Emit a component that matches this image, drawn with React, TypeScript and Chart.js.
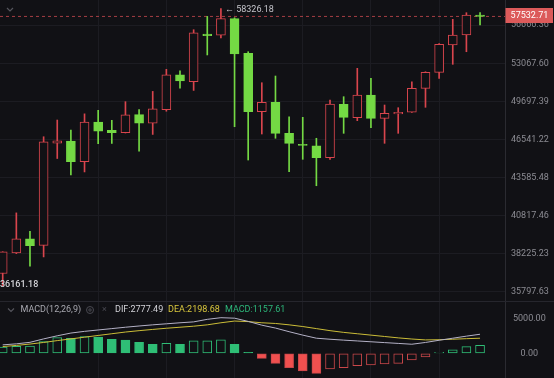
import React, { useEffect, useRef } from "react";
import { Chart, registerables } from "chart.js";

Chart.register(...registerables);

// ---------- data ----------
const OPEN = [36938, 38271, 39210, 38777, 46250, 46405, 44786, 47960, 47269, 47080, 48580, 47860, 48991, 52014, 51420, 55820, 55700, 57310, 53990, 48821, 49616, 47034, 46150, 46039, 45097, 49440, 48310, 50246, 48266, 48630, 48775, 50829, 52250, 54767, 55718, 57673];
const HIGH = [38350, 41006, 39730, 46758, 48124, 47294, 48639, 48937, 48100, 49670, 48990, 50557, 52521, 52390, 56230, 57537, 58326.18, 57400, 54137, 51320, 51917, 48398, 48350, 46633, 49813, 50099, 52611, 51713, 49386, 49157, 51409, 52300, 54900, 57248, 57903, 57903];
const LOW = [36161.18, 38225, 37400, 38009, 45035, 43780, 44005, 46199, 46220, 47060, 45617, 46944, 48860, 50850, 50643, 53835, 55450, 47573, 44919, 46978, 46633, 44023, 44973, 42971, 44973, 47034, 48069, 47490, 46230, 47034, 48760, 49190, 51713, 52974, 54137, 56689];
const CLOSE = [38337, 39210, 38757, 46357, 46420, 44786, 47960, 47213, 47080, 48555, 47860, 49070, 52014, 51483, 55917, 55650, 57310, 53923, 48821, 49616, 47034, 46230, 46055, 45097, 49472, 48348, 50246, 48266, 48685, 48775, 50829, 52250, 54831, 55718, 57673, 57532.71];

const PRICE_TICKS = [35797.63, 38225.23, 40817.46, 43585.48, 46541.22, 49697.39, 53067.6, 56666.36];
const LAST_PRICE = 57532.71;
const HIGH_MARK = 58326.18;
const LOW_MARK = 36161.18;
const GRID_INDEX = [7, 12, 17, 22, 27, 32];

const HIST = [900, 1000, 1050, 1700, 2280, 2200, 2430, 2380, 2040, 1940, 1600, 1310, 1460, 1310, 1800, 1830, 1950, 1310, 130, -730, -1460, -2090, -2580, -2920, -2280, -2090, -1800, -1700, -1550, -1460, -970, -530, 100, 490, 980, 1157.61];
const DIF = [1230, 1380, 1600, 2100, 2550, 2950, 3200, 3400, 3600, 3800, 3980, 4150, 4300, 4450, 4580, 4950, 5190, 5120, 4650, 4100, 3680, 3150, 2650, 2200, 2050, 1920, 1800, 1680, 1560, 1440, 1320, 1580, 1900, 2200, 2500, 2777.49];
const DEA = [980, 1150, 1350, 1580, 1850, 2100, 2350, 2600, 2850, 3100, 3300, 3480, 3650, 3800, 3950, 4150, 4450, 4700, 4620, 4450, 4350, 4150, 3900, 3600, 3300, 3050, 2850, 2650, 2450, 2250, 2080, 1950, 1980, 2050, 2130, 2198.68];
const MACD_TICKS = [0, 5000];

// ---------- style ----------
const FONT = "Roboto, 'Noto Sans', Arial, sans-serif";
const BG = "#111115";
const GRID = "#1c1c22";
const AXIS_LINE = "#2b2b31";
const TICK = "#8c8c93";
const UP = "#d9454d";
const DOWN = "#74d944";
const HIST_UP = "#2fbe76";
const HIST_DN = "#f0504f";
const HIST_DN_LINE = "#c9474a";

const X_MIN = -0.198;
const X_MAX = 36.83;
const Y_MIN = 35228;
const Y_MAX = 59185;
const M_MIN = -3601;
const M_MAX = 7624;

const idx = OPEN.map((_, i) => i);
const isUp = (i: number) => CLOSE[i] >= OPEN[i];

const mainOverlay = {
  id: "mainOverlay",
  afterDatasetsDraw(chart: any) {
    const { ctx, scales } = chart;
    const x = scales.x;
    const y = scales.y;
    ctx.save();
    ctx.strokeStyle = "#55555c";
    ctx.lineWidth = 1.2;
    ctx.beginPath();
    ctx.moveTo(7, 8);
    ctx.lineTo(10, 11);
    ctx.lineTo(13, 8);
    ctx.stroke();

    ctx.font = `9px ${FONT}`;
    ctx.textBaseline = "middle";
    ctx.textAlign = "left";
    const hi = HIGH.indexOf(HIGH_MARK);
    ctx.fillStyle = "#c4c4ca";
    ctx.fillText(`← ${HIGH_MARK.toFixed(2)}`, x.getPixelForValue(hi) + 4, y.getPixelForValue(HIGH_MARK) + 1);

    const lo = LOW.indexOf(LOW_MARK);
    ctx.fillStyle = "#d4d4d8";
    ctx.font = `500 9px ${FONT}`;
    ctx.fillText(LOW_MARK.toFixed(2), Math.max(0, x.getPixelForValue(lo) - 3), y.getPixelForValue(LOW_MARK) - 1.5);
    ctx.restore();
  },
  afterDraw(chart: any) {
    const { ctx, chartArea, scales } = chart;
    const py = scales.y.getPixelForValue(LAST_PRICE);
    ctx.save();
    ctx.fillStyle = "#dc5a5a";
    ctx.fillRect(chartArea.right + 0.5, Math.round(py) - 8, chart.width - chartArea.right - 1.5, 15);
    ctx.fillStyle = "#ffffff";
    ctx.font = `9px ${FONT}`;
    ctx.textAlign = "center";
    ctx.textBaseline = "middle";
    ctx.fillText(LAST_PRICE.toFixed(2), (chartArea.right + chart.width) / 2, Math.round(py) - 0.5);
    ctx.restore();
  },
};

const macdOverlay = {
  id: "macdOverlay",
  afterDraw(chart: any) {
    const { ctx } = chart;
    ctx.save();
    ctx.strokeStyle = "#26262d";
    ctx.lineWidth = 1;
    ctx.beginPath();
    ctx.moveTo(0, 0.5);
    ctx.lineTo(chart.width, 0.5);
    ctx.stroke();

    const ty = 9;
    ctx.strokeStyle = "#55555c";
    ctx.lineWidth = 1.2;
    ctx.beginPath();
    ctx.moveTo(8, ty - 1.5);
    ctx.lineTo(11, ty + 1.5);
    ctx.lineTo(14, ty - 1.5);
    ctx.stroke();

    ctx.font = `9px ${FONT}`;
    ctx.textBaseline = "middle";
    ctx.textAlign = "left";
    ctx.fillStyle = "#a8a8b0";
    ctx.fillText("MACD(12,26,9)", 20.5, ty);

    ctx.strokeStyle = "#4a4a52";
    ctx.lineWidth = 1;
    ctx.beginPath();
    ctx.arc(90, ty, 3.5, 0, Math.PI * 2);
    ctx.stroke();
    ctx.beginPath();
    ctx.arc(90, ty, 1.2, 0, Math.PI * 2);
    ctx.stroke();
    ctx.fillStyle = "#4a4a52";
    ctx.fillText("×", 102, ty);

    const dif = DIF[DIF.length - 1];
    const dea = DEA[DEA.length - 1];
    const macd = HIST[HIST.length - 1];
    ctx.fillStyle = "#d2d2d8";
    ctx.fillText(`DIF:${dif.toFixed(2)}`, 115, ty);
    ctx.fillStyle = "#d9c73d";
    ctx.fillText(`DEA:${dea.toFixed(2)}`, 168, ty);
    ctx.fillStyle = "#2db67a";
    ctx.fillText(`MACD:${macd.toFixed(2)}`, 225, ty);
    ctx.restore();
  },
};

function xScale() {
  return {
    type: "linear" as const,
    min: X_MIN,
    max: X_MAX,
    offset: false,
    ticks: { display: false },
    grid: { color: GRID, drawTicks: false, offset: false },
    border: { display: false },
    afterBuildTicks: (s: any) => {
      s.ticks = GRID_INDEX.map((v) => ({ value: v }));
    },
  };
}

export default function App() {
  const mainRef = useRef<HTMLCanvasElement | null>(null);
  const macdRef = useRef<HTMLCanvasElement | null>(null);

  useEffect(() => {
    const wickColors = idx.map((i) => (isUp(i) ? UP : DOWN));
    const bodyFill = idx.map((i) => (isUp(i) ? BG : DOWN));

    const main = new Chart(mainRef.current as HTMLCanvasElement, {
      type: "bar",
      data: {
        datasets: [
          {
            type: "line",
            label: "last",
            data: [
              { x: X_MIN, y: LAST_PRICE },
              { x: X_MAX, y: LAST_PRICE },
            ],
            borderColor: "rgba(214,78,84,0.75)",
            borderWidth: 1,
            borderDash: [3, 3],
            pointRadius: 0,
            order: 3,
          } as any,
          {
            type: "bar",
            label: "wick",
            data: idx.map((i) => ({ x: i, y: [LOW[i], HIGH[i]] })),
            backgroundColor: wickColors,
            borderWidth: 0,
            barThickness: 1,
            grouped: false,
            order: 2,
          } as any,
          {
            type: "bar",
            label: "body",
            data: idx.map((i) => ({ x: i, y: [OPEN[i], CLOSE[i]] })),
            backgroundColor: bodyFill,
            borderColor: wickColors,
            borderWidth: 1,
            borderSkipped: false,
            barThickness: 9,
            minBarLength: 1,
            grouped: false,
            order: 1,
          } as any,
        ],
      },
      options: {
        animation: false,
        responsive: false,
        maintainAspectRatio: false,
        devicePixelRatio: 1,
        layout: { padding: 0 },
        events: [],
        plugins: { legend: { display: false }, tooltip: { enabled: false } },
        scales: {
          x: xScale() as any,
          y: {
            type: "logarithmic",
            position: "right",
            min: Y_MIN,
            max: Y_MAX,
            ticks: {
              color: TICK,
              font: { size: 9, family: FONT },
              padding: 6,
              crossAlign: "center",
              autoSkip: false,
              callback: (v: any) => Number(v).toFixed(2),
            },
            grid: { color: GRID, drawTicks: false },
            border: { display: true, color: AXIS_LINE },
            afterBuildTicks: (s: any) => {
              s.ticks = PRICE_TICKS.map((v) => ({ value: v }));
            },
            afterFit: (s: any) => {
              s.width = 49;
              s.paddingTop = 0;
              s.paddingBottom = 0;
            },
          } as any,
        },
      },
      plugins: [mainOverlay],
    });

    const histFill = HIST.map((v, i) => {
      const prev = i > 0 ? HIST[i - 1] : -Infinity;
      if (v >= 0) return v < prev ? HIST_UP : BG;
      return v < prev ? HIST_DN : BG;
    });
    const histLine = HIST.map((v) => (v >= 0 ? HIST_UP : HIST_DN_LINE));

    const macd = new Chart(macdRef.current as HTMLCanvasElement, {
      type: "bar",
      data: {
        datasets: [
          {
            type: "line",
            label: "DIF",
            data: idx.map((i) => ({ x: i, y: DIF[i] })),
            borderColor: "#b4b1c6",
            borderWidth: 1,
            pointRadius: 0,
            order: 0,
          } as any,
          {
            type: "line",
            label: "DEA",
            data: idx.map((i) => ({ x: i, y: DEA[i] })),
            borderColor: "#cbbd38",
            borderWidth: 1,
            pointRadius: 0,
            order: 0,
          } as any,
          {
            type: "bar",
            label: "MACD",
            data: idx.map((i) => ({ x: i, y: HIST[i] })),
            backgroundColor: histFill,
            borderColor: histLine,
            borderWidth: 1,
            borderSkipped: false,
            barThickness: 9,
            minBarLength: 1,
            grouped: false,
            order: 1,
          } as any,
        ],
      },
      options: {
        animation: false,
        responsive: false,
        maintainAspectRatio: false,
        devicePixelRatio: 1,
        layout: { padding: 0 },
        events: [],
        plugins: { legend: { display: false }, tooltip: { enabled: false } },
        scales: {
          x: xScale() as any,
          y: {
            type: "linear",
            position: "right",
            min: M_MIN,
            max: M_MAX,
            ticks: {
              color: TICK,
              font: { size: 9, family: FONT },
              padding: 8,
              crossAlign: "center",
              autoSkip: false,
              callback: (v: any) => Number(v).toFixed(2),
            },
            grid: { color: "rgba(0,0,0,0)", drawTicks: false },
            border: { display: true, color: AXIS_LINE },
            afterBuildTicks: (s: any) => {
              s.ticks = MACD_TICKS.map((v) => ({ value: v }));
            },
            afterFit: (s: any) => {
              s.width = 49;
              s.paddingTop = 0;
              s.paddingBottom = 0;
            },
          } as any,
        },
      },
      plugins: [macdOverlay],
    });

    return () => {
      main.destroy();
      macd.destroy();
    };
  }, []);

  return (
    <div style={{ position: "fixed", left: 0, top: 0, width: 554, height: 378, background: BG, overflow: "hidden" }}>
      <canvas ref={mainRef} width={554} height={301} style={{ position: "absolute", left: 0, top: 0 }} />
      <canvas ref={macdRef} width={554} height={77} style={{ position: "absolute", left: 0, top: 301 }} />
    </div>
  );
}
